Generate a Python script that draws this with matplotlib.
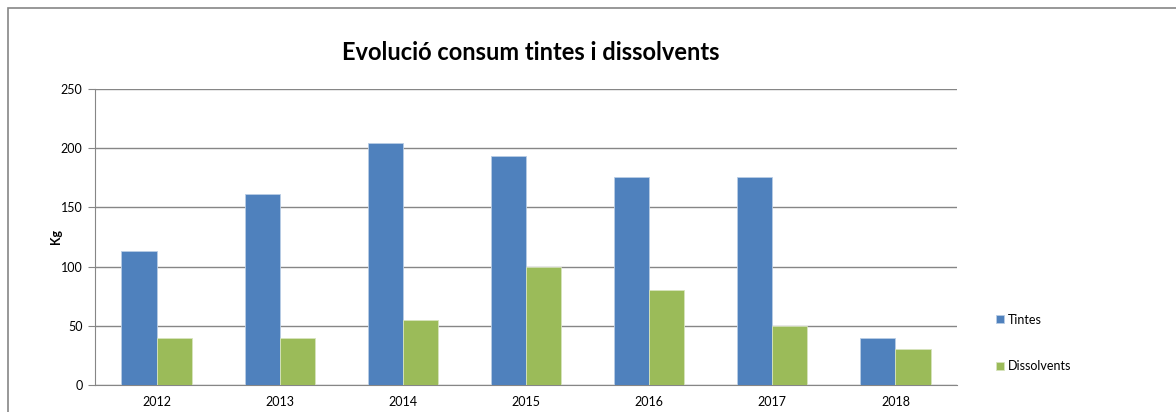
import numpy as np
import matplotlib.pyplot as plt
from matplotlib.patches import Rectangle

years = ['2012', '2013', '2014', '2015', '2016', '2017', '2018']
tintes = [113, 161, 204, 193, 176, 176, 40]
dissolvents = [40, 40, 55, 100, 80, 50, 30]

W, H = 1176, 412
fig = plt.figure(figsize=(W / 100, H / 100), dpi=100)
plt.rcParams['font.family'] = ['Lato', 'DejaVu Sans']

# outer chart border (cropped on right/bottom)
fig.patches.append(Rectangle((8 / W, -0.1), 1.2, (H - 8) / H + 0.1,
                             transform=fig.transFigure, fill=False,
                             edgecolor='#868686', linewidth=1.2))

ax = fig.add_axes([95 / W, (H - 385) / H, (957 - 95) / W, (385 - 89) / H])
x = np.arange(len(years))
bw = 0.285
ax.bar(x - bw / 2, tintes, bw, color='#4F81BD', edgecolor='#B9CDE5', linewidth=0.6, label='Tintes', zorder=3)
ax.bar(x + bw / 2, dissolvents, bw, color='#9BBB59', edgecolor='#D7E4BD', linewidth=0.6, label='Dissolvents', zorder=3)

ax.set_xlim(-0.5, len(years) - 0.5)
ax.set_ylim(0, 250)
ax.set_yticks(range(0, 251, 50))
ax.set_xticks(x)
ax.set_xticklabels(years)
ax.yaxis.grid(True, color='#868686', linewidth=1.0, zorder=0)
for s in ['top', 'right']:
    ax.spines[s].set_visible(False)
for s in ['left', 'bottom']:
    ax.spines[s].set_color('#868686')
ax.tick_params(axis='y', length=5, color='#868686', labelsize=9, pad=4)
ax.tick_params(axis='x', length=0, labelsize=9, pad=8)
ax.set_ylabel('Kg', fontsize=9, fontweight='bold', labelpad=-2)
ax.yaxis.set_label_coords((62 - 95) / (957 - 95), 0.5)

fig.text(531 / W, (H - 52) / H, 'Evolució consum tintes i dissolvents',
         ha='center', va='center', fontsize=17, fontweight='bold')

ax.legend(loc='center left', bbox_to_anchor=(985 / W, (H - 343) / H),
          bbox_transform=fig.transFigure, frameon=False, fontsize=9,
          handlelength=0.6, handleheight=0.6, handletextpad=0.3,
          labelspacing=2.8)

fig.savefig('out.png', dpi=100)
